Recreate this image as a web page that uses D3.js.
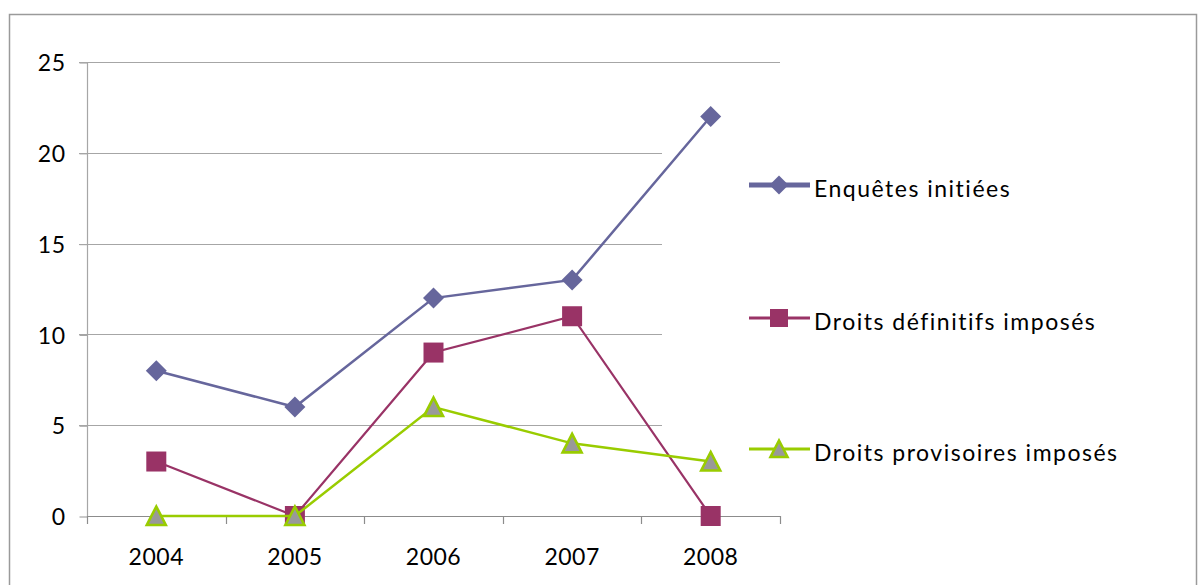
<!DOCTYPE html>
<html><head><meta charset="utf-8">
<script src="https://cdn.jsdelivr.net/npm/d3@7/dist/d3.min.js"></script>
<style>
html,body{margin:0;padding:0;background:#fff;}
svg{display:block;}
text{font-family:Lato,"Open Sans",sans-serif;fill:#000;}
</style></head><body>
<svg id="c" width="1198" height="585"></svg>
<script>
const categories = ["2004","2005","2006","2007","2008"];
const seriesNames = ["Enquêtes initiées","Droits définitifs imposés","Droits provisoires imposés"];
const enquetes = [8,6,12,13,22];
const definitifs = [3,0,9,11,0];
const provisoires = [0,0,6,4,3];
const yTicks = [0,5,10,15,20,25];

const svg = d3.select("#c");

// outer frame
svg.append("rect").attr("x",9.5).attr("y",14.5).attr("width",1187).attr("height",620)
  .attr("fill","#fff").attr("stroke","#9a9a9a").attr("stroke-width",1.5);

const x = d3.scaleBand().domain(categories).range([87,780]);
const y = d3.scaleLinear().domain([0,25]).range([516,62]);

// gridlines
svg.append("g").selectAll("line").data(yTicks.filter(d=>d>0)).join("line")
  .attr("x1",79).attr("x2",780)
  .attr("y1",d=>Math.round(y(d))+0.5).attr("y2",d=>Math.round(y(d))+0.5)
  .attr("stroke","#a6a6a6").attr("stroke-width",1.2);

// legend background box (overlaps plot area)
svg.append("rect").attr("x",662).attr("y",95).attr("width",530).attr("height",400).attr("fill","#fff");

// y axis
const yAxis = d3.axisLeft(y).tickValues(yTicks).tickSize(8).tickPadding(14);
const ya = svg.append("g").attr("transform","translate(87.5,0.5)").call(yAxis);
ya.select(".domain").attr("stroke","#a6a6a6").attr("stroke-width",1.2).attr("d","M0,"+y(25)+"V"+y(0));
ya.selectAll(".tick line").attr("stroke","#a6a6a6").attr("stroke-width",1.2);
ya.selectAll(".tick text").attr("font-size","23px").attr("font-family","Lato").attr("fill","#000")
  .attr("dy","0.36em").style("letter-spacing","0.5px");

// x axis
const xAxis = d3.axisBottom(x).tickSize(0).tickPadding(0);
const xa = svg.append("g").attr("transform","translate(0,"+(Math.round(y(0))+0.5)+")").call(xAxis);
xa.select(".domain").attr("stroke","#8c8c8c").attr("stroke-width",1.2).attr("d","M87,0H780");
xa.selectAll(".tick line").remove();
xa.selectAll(".tick text").attr("font-size","23px").attr("font-family","Lato").attr("fill","#000")
  .attr("y",48).attr("dy",0).style("letter-spacing","0.5px");
// category boundary ticks
const bounds = categories.map(c=>x(c)).concat([x.range()[1]]);
svg.append("g").selectAll("line").data(bounds).join("line")
  .attr("x1",d=>Math.round(d)+0.5).attr("x2",d=>Math.round(d)+0.5)
  .attr("y1",y(0)).attr("y2",y(0)+8)
  .attr("stroke","#8c8c8c").attr("stroke-width",1.2);

const cx = c => x(c) + x.bandwidth()/2;
const line = d3.line().x((d,i)=>cx(categories[i])).y(d=>y(d));

const series = [
  {name:seriesNames[0], values:enquetes, color:"#66669c", width:2.5, shape:"diamond", legW:5},
  {name:seriesNames[1], values:definitifs, color:"#993366", width:2.2, shape:"square", legW:3},
  {name:seriesNames[2], values:provisoires, color:"#99cc00", width:2.5, shape:"triangle", legW:3}
];

function marker(sel, shape, color, s){
  if(shape==="diamond"){
    sel.append("path").attr("d",`M0,${-s}L${s},0L0,${s}L${-s},0Z`).attr("fill",color);
  } else if(shape==="square"){
    sel.append("rect").attr("x",-s).attr("y",-s).attr("width",2*s).attr("height",2*s).attr("fill",color);
  } else {
    const t = s-1.3;
    sel.append("path").attr("d",`M0,${-t}L${t},${t-0.5}L${-t},${t-0.5}Z`)
      .attr("fill","#999999").attr("stroke",color).attr("stroke-width",2.6).attr("stroke-linejoin","miter");
  }
}

series.forEach(s=>{
  const sg = svg.append("g");
  sg.append("path").datum(s.values).attr("d",line).attr("fill","none")
    .attr("stroke",s.color).attr("stroke-width",s.width);
  s.values.forEach((v,i)=>{
    const m = sg.append("g").attr("transform",`translate(${cx(categories[i])},${y(v)})`);
    marker(m, s.shape, s.color, s.shape==="diamond"?10.5:(s.shape==="square"?10:10.8));
  });
});

// legend
const legY = [185, 318, 449];
series.forEach((s,i)=>{
  const lg = svg.append("g").attr("transform",`translate(0,${legY[i]})`);
  lg.append("line").attr("x1",749).attr("x2",810).attr("y1",0).attr("y2",0)
    .attr("stroke",s.color).attr("stroke-width",s.legW);
  const m = lg.append("g").attr("transform","translate(779,0)");
  marker(m, s.shape, s.color, s.shape==="diamond"?9.5:(s.shape==="square"?9:9.8));
  lg.append("text").attr("x",814).attr("y",11.5).attr("font-size","23px")
    .style("letter-spacing","1.5px").text(s.name);
});
</script>
</body></html>
